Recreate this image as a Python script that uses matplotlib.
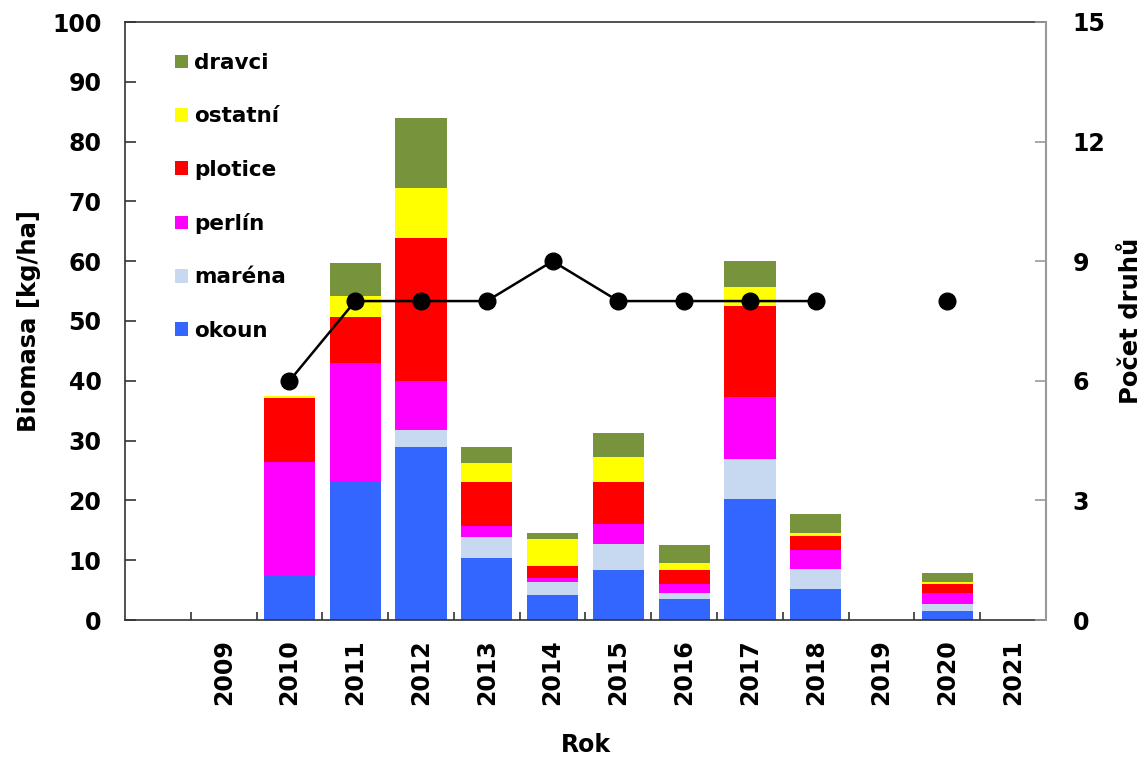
import matplotlib
matplotlib.use("Agg")
import matplotlib.pyplot as plt
from matplotlib.patches import Patch
import numpy as np

years = ["2009", "2010", "2011", "2012", "2013", "2014", "2015", "2016",
         "2017", "2018", "2019", "2020", "2021"]
okoun   = [0, 7.5, 23.3, 28.9, 10.4, 4.1, 8.4, 3.5, 20.3, 5.2, 0, 1.5, 0]
marena  = [0, 0.0, 0.0, 2.9, 3.4, 2.3, 4.3, 1.0, 6.6, 3.4, 0, 1.1, 0]
perlin  = [0, 18.9, 19.7, 8.2, 1.9, 0.7, 3.3, 1.55, 10.4, 3.05, 0, 1.9, 0]
plotice = [0, 10.7, 7.6, 23.8, 7.4, 2.0, 7.1, 2.35, 15.25, 2.35, 0, 1.55, 0]
ostatni = [0, 0.4, 3.6, 8.5, 3.2, 4.5, 4.2, 1.1, 3.15, 0.6, 0, 0.25, 0]
dravci  = [0, 0.0, 5.5, 11.7, 2.6, 0.9, 4.0, 3.0, 4.35, 3.1, 0, 1.5, 0]
pocet_druhu = [np.nan, 6, 8, 8, 8, 9, 8, 8, 8, 8, np.nan, 8, np.nan]

series = [
    ("okoun", okoun, "#3366FF"),
    ("maréna", marena, "#C6D9F0"),
    ("perlín", perlin, "#FF00FF"),
    ("plotice", plotice, "#FF0000"),
    ("ostatní", ostatni, "#FFFF00"),
    ("dravci", dravci, "#77933C"),
]

plt.rcParams['font.family'] = ['DejaVu Sans']
fig = plt.figure(figsize=(11.48, 7.61), dpi=100)
ax = fig.add_axes([125/1148, 1-620/761, (1046-125)/1148, (620-22)/761])

x = np.arange(1, len(years) + 1)
bottom = np.zeros(len(years))
for name, vals, col in series:
    v = np.array(vals, dtype=float)
    ax.bar(x, v, width=0.78, bottom=bottom, color=col, edgecolor='none', zorder=2)
    bottom += v

ax.set_xlim(-0.5, len(years) + 0.5)
ax.set_ylim(0, 100)
ax.set_yticks(np.arange(0, 101, 10))
ax.set_xticks(x)
ax.set_xticklabels(years, rotation=90, fontsize=17, fontweight='bold')
ax.set_xticks(np.arange(0.5, len(years)), minor=True)
ax.tick_params(axis='x', which='major', length=0, pad=14)
ax.tick_params(axis='x', which='minor', direction='in', length=6, width=1.2, color='#333333')
ax.tick_params(axis='y', direction='in', length=8, width=1.2, color='#333333',
               labelsize=17, pad=17)
for lab in ax.get_yticklabels():
    lab.set_fontweight('bold')
for s in ['left', 'bottom', 'top']:
    ax.spines[s].set_color('#333333')
    ax.spines[s].set_linewidth(1.2)
ax.spines['right'].set_visible(False)

ax.set_ylabel("Biomasa [kg/ha]", fontsize=17.5, fontweight='bold', labelpad=8)
ax.set_xlabel("Rok", fontsize=17, fontweight='bold', labelpad=20)

ax2 = ax.twinx()
ax2.set_ylim(0, 15)
ax2.set_yticks(np.arange(0, 16, 3))
ax2.plot(x, pocet_druhu, color='black', lw=1.8, marker='o', markersize=12, zorder=5)
ax2.tick_params(axis='y', direction='in', length=8, width=1.2, color='#999999',
                labelsize=17, pad=19)
for lab in ax2.get_yticklabels():
    lab.set_fontweight('bold')
for s in ['left', 'bottom', 'top']:
    ax2.spines[s].set_visible(False)
ax2.spines['right'].set_color('#999999')
ax2.spines['right'].set_linewidth(1.5)
ax2.set_ylabel("Počet druhů", fontsize=17.5, fontweight='bold', labelpad=10)

handles = [Patch(facecolor=c, edgecolor='none', label=n) for n, _, c in series][::-1]
leg = ax.legend(handles=handles, loc='upper left',
                bbox_to_anchor=(175/1148, 1-53/761), bbox_transform=fig.transFigure,
                frameon=False, prop={'weight': 'bold', 'size': 15.5},
                handlelength=0.6, handleheight=0.6, handletextpad=0.3,
                labelspacing=1.55, borderpad=0, borderaxespad=0)

fig.savefig("out.png", dpi=100)
